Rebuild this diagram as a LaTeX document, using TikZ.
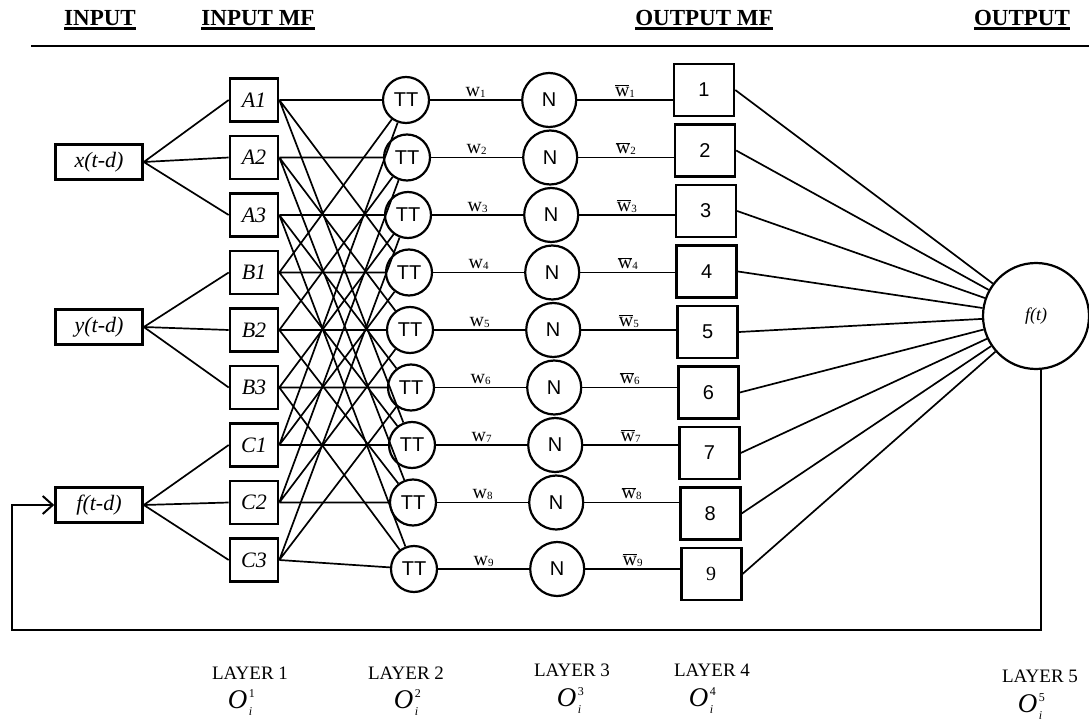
\documentclass[tikz,border=0pt]{standalone}
\usepackage{fontspec}
\setmainfont{Liberation Serif}
\newfontfamily\sansfont{Liberation Sans}
\usetikzlibrary{positioning, arrows.meta}

\newcommand{\ulhead}[1]{\setbox0=\hbox{#1}\rlap{\rule[-4pt]{\wd0}{2.2pt}}\box0}
\newcommand{\layerO}[1]{\textit{O}\kern1.5pt\rlap{\raisebox{11pt}{\fontsize{12}{12}\selectfont #1}}\raisebox{-7pt}{\fontsize{12}{12}\selectfont\itshape i}}
\newcommand{\wsub}[1]{w\raisebox{-1pt}{\fontsize{11}{11}\selectfont #1}}
\newcommand{\wbar}[1]{$\overline{\mbox{w}}$\raisebox{-1pt}{\fontsize{11}{11}\selectfont #1}}

\begin{document}
\begin{tikzpicture}[x=1pt, y=-1pt, node distance = 57.5pt]

\tikzstyle{inbox} = [rectangle, draw=black, line width=2.6pt, minimum width=87pt, minimum height=35pt, inner sep=0pt, font=\fontsize{22}{22}\selectfont\itshape]
\tikzstyle{mfbox} = [rectangle, draw=black, line width=2.6pt, minimum width=48pt, minimum height=43pt, inner sep=0pt, font=\fontsize{22}{22}\selectfont\itshape]
\tikzstyle{ttnode} = [circle, draw=black, line width=2.2pt, minimum size=46pt, inner sep=0pt, font=\sansfont\fontsize{20}{20}\selectfont]
\tikzstyle{nnode} = [circle, draw=black, line width=2.2pt, minimum size=54pt, inner sep=0pt, font=\sansfont\fontsize{20}{20}\selectfont]
\tikzstyle{outbox} = [rectangle, draw=black, line width=2.6pt, minimum width=60pt, minimum height=52pt, inner sep=0pt, node distance=60.5pt, font=\sansfont\fontsize{20}{20}\selectfont]
\tikzstyle{sumnode} = [circle, draw=black, line width=2.2pt, minimum size=106pt, inner sep=0pt, font=\fontsize{18}{18}\selectfont\itshape]
\tikzstyle{link} = [line width=1.7pt]
\tikzstyle{wlab} = [midway, above, inner sep=2pt, font=\fontsize{20}{20}\selectfont]
\tikzstyle{header} = [font=\bfseries\fontsize{23}{23}\selectfont]
\tikzstyle{layertxt} = [font=\fontsize{19}{19}\selectfont]
\tikzstyle{otxt} = [font=\fontsize{27}{27}\selectfont]

\useasboundingbox (0,0) rectangle (1089,727);

% headers
\node (h_in)[header] at (100,20) {\ulhead{INPUT}};
\node (h_inmf)[header] at (258,20) {\ulhead{INPUT MF}};
\node (h_outmf)[header] at (704,20) {\ulhead{OUTPUT MF}};
\node (h_out)[header] at (1022,20) {\ulhead{OUTPUT}};
\coordinate (rule_l) at (31,46);
\coordinate (rule_r) at (1089,46);
\draw[line width=2.8pt] (rule_l) -- (rule_r);

% inputs
\node (in_x)[inbox] at (99,162) {x(t-d)};
\node (in_y)[inbox] at (99,327) {y(t-d)};
\node (in_f)[inbox] at (99,505) {f(t-d)};

% layer 1
\node (A1)[mfbox] at (254,100) {A1};
\node (A2)[mfbox, below of = A1] {A2};
\node (A3)[mfbox, below of = A2] {A3};
\node (B1)[mfbox, below of = A3] {B1};
\node (B2)[mfbox, below of = B1] {B2};
\node (B3)[mfbox, below of = B2] {B3};
\node (C1)[mfbox, below of = B3] {C1};
\node (C2)[mfbox, below of = C1] {C2};
\node (C3)[mfbox, below of = C2] {C3};

% layer 2
\node (tt1)[ttnode] at (406,100) {TT};
\node (tt2)[ttnode, below of = tt1, xshift=1pt] {TT};
\node (tt3)[ttnode, below of = tt2, xshift=1pt] {TT};
\node (tt4)[ttnode, below of = tt3, xshift=1pt] {TT};
\node (tt5)[ttnode, below of = tt4, xshift=1pt] {TT};
\node (tt6)[ttnode, below of = tt5, xshift=1pt] {TT};
\node (tt7)[ttnode, below of = tt6, xshift=1pt] {TT};
\node (tt8)[ttnode, below of = tt7, xshift=1pt] {TT};
\node (tt9)[ttnode, below of = tt8, xshift=1pt, yshift=-9pt] {TT};

% layer 3
\node (n1)[nnode, right = 91pt of tt1] {N};
\node (n2)[nnode, right = 91pt of tt2] {N};
\node (n3)[nnode, right = 91pt of tt3] {N};
\node (n4)[nnode, right = 91pt of tt4] {N};
\node (n5)[nnode, right = 91pt of tt5] {N};
\node (n6)[nnode, right = 91pt of tt6] {N};
\node (n7)[nnode, right = 91pt of tt7] {N};
\node (n8)[nnode, right = 91pt of tt8] {N};
\node (n9)[nnode, right = 91pt of tt9] {N};

% layer 4
\node (o1)[outbox] at (704,90) {1};
\node (o2)[outbox, below of = o1, xshift=0.9pt] {2};
\node (o3)[outbox, below of = o2, xshift=0.9pt] {3};
\node (o4)[outbox, below of = o3, xshift=0.9pt] {4};
\node (o5)[outbox, below of = o4, xshift=0.9pt] {5};
\node (o6)[outbox, below of = o5, xshift=0.9pt] {6};
\node (o7)[outbox, below of = o6, xshift=0.9pt] {7};
\node (o8)[outbox, below of = o7, xshift=0.9pt] {8};
\node (o9)[outbox, below of = o8, xshift=0.9pt] {\rmfamily 9};

% layer 5
\node (ft)[sumnode] at (1036,316) {f(t)};

% arrows
\draw[link] (in_x.east) -- (A1.west) (in_x.east) -- (A2.west) (in_x.east) -- (A3.west);
\draw[link] (in_y.east) -- (B1.west) (in_y.east) -- (B2.west) (in_y.east) -- (B3.west);
\draw[link] (in_f.east) -- (C1.west) (in_f.east) -- (C2.west) (in_f.east) -- (C3.west);

\draw[link] (A1.east) -- (tt1) (A1.east) -- (tt4) (A1.east) -- (tt7);
\draw[link] (A2.east) -- (tt2) (A2.east) -- (tt5) (A2.east) -- (tt8);
\draw[link] (A3.east) -- (tt3) (A3.east) -- (tt6) (A3.east) -- (tt9);
\draw[link] (B1.east) -- (tt1) (B1.east) -- (tt4) (B1.east) -- (tt7);
\draw[link] (B2.east) -- (tt2) (B2.east) -- (tt5) (B2.east) -- (tt8);
\draw[link] (B3.east) -- (tt3) (B3.east) -- (tt6) (B3.east) -- (tt9);
\draw[link] (C1.east) -- (tt1) (C1.east) -- (tt4) (C1.east) -- (tt7);
\draw[link] (C2.east) -- (tt2) (C2.east) -- (tt5) (C2.east) -- (tt8);
\draw[link] (C3.east) -- (tt3) (C3.east) -- (tt6) (C3.east) -- (tt9);

\draw[link] (tt1) -- (n1) node[wlab] {\wsub{1}};
\draw[link] (tt2) -- (n2) node[wlab] {\wsub{2}};
\draw[link] (tt3) -- (n3) node[wlab] {\wsub{3}};
\draw[link] (tt4) -- (n4) node[wlab] {\wsub{4}};
\draw[link] (tt5) -- (n5) node[wlab] {\wsub{5}};
\draw[link] (tt6) -- (n6) node[wlab] {\wsub{6}};
\draw[link] (tt7) -- (n7) node[wlab] {\wsub{7}};
\draw[link] (tt8) -- (n8) node[wlab] {\wsub{8}};
\draw[link] (tt9) -- (n9) node[wlab] {\wsub{9}};

\draw[link] (n1) -- (n1 -| o1.west) node[wlab] {\wbar{1}};
\draw[link] (n2) -- (n2 -| o2.west) node[wlab] {\wbar{2}};
\draw[link] (n3) -- (n3 -| o3.west) node[wlab] {\wbar{3}};
\draw[link] (n4) -- (n4 -| o4.west) node[wlab] {\wbar{4}};
\draw[link] (n5) -- (n5 -| o5.west) node[wlab] {\wbar{5}};
\draw[link] (n6) -- (n6 -| o6.west) node[wlab] {\wbar{6}};
\draw[link] (n7) -- (n7 -| o7.west) node[wlab] {\wbar{7}};
\draw[link] (n8) -- (n8 -| o8.west) node[wlab] {\wbar{8}};
\draw[link] (n9) -- (n9 -| o9.west) node[wlab] {\wbar{9}};

\draw[link] (o1.east) -- (ft) (o2.east) -- (ft) (o3.east) -- (ft);
\draw[link] (o4.east) -- (ft) (o5.east) -- (ft) (o6.east) -- (ft);
\draw[link] (o7.east) -- (ft) (o8.east) -- (ft) (o9.east) -- (ft);

% feedback
\coordinate (fb) at (12,630);
\draw[link, line width=2pt, -{Straight Barb[length=10pt, width=18pt]}] (ft.-85) |- (fb) |- (in_f.west);

% layer labels
\node (lay1)[layertxt] at (250,673) {LAYER 1};
\node (lay1o)[otxt] at (240,703) {\layerO{1}};
\node (lay2)[layertxt] at (406,673) {LAYER 2};
\node (lay2o)[otxt] at (406,703) {\layerO{2}};
\node (lay3)[layertxt] at (572,670) {LAYER 3};
\node (lay3o)[otxt] at (569,701) {\layerO{3}};
\node (lay4)[layertxt] at (712,670) {LAYER 4};
\node (lay4o)[otxt] at (701,701) {\layerO{4}};
\node (lay5)[layertxt] at (1040,676) {LAYER 5};
\node (lay5o)[otxt] at (1030,707) {\layerO{5}};

\end{tikzpicture}
\end{document}
